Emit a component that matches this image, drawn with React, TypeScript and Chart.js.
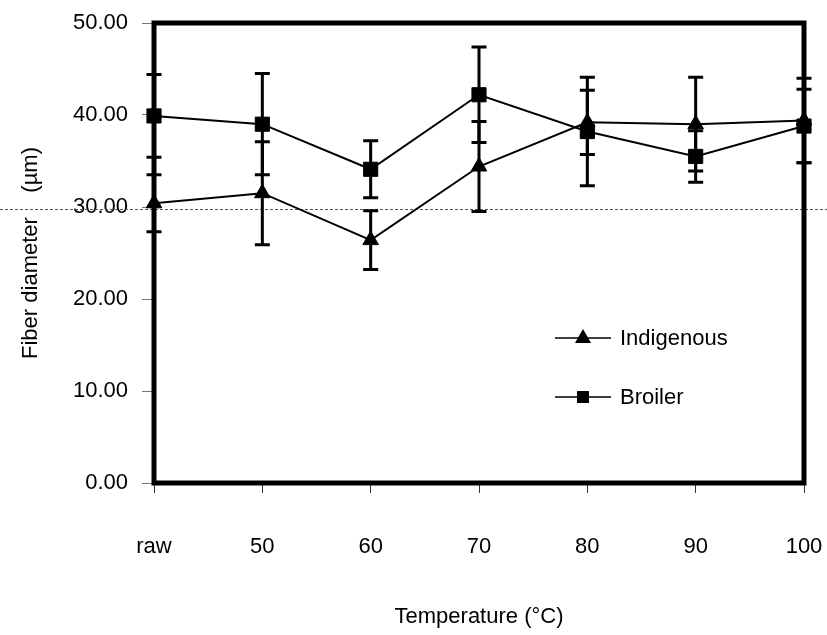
import React, { useEffect, useRef } from "react";
import { Chart, registerables } from "chart.js";

Chart.register(...registerables);

const categories = ["raw", "50", "60", "70", "80", "90", "100"];
const indigenous = [30.4, 31.5, 26.4, 34.4, 39.2, 39.0, 39.4];
const indigenousErr = [3.1, 5.6, 3.2, 4.9, 3.5, 5.1, 4.6];
const broiler = [39.9, 39.0, 34.1, 42.2, 38.2, 35.5, 38.8];
const broilerErr = [4.5, 5.5, 3.1, 5.2, 5.9, 2.8, 4.0];
const yMin = 0;
const yMax = 50;
const yStep = 10;
const scanLineValue = 29.8;
const seriesNames = ["Indigenous", "Broiler"];
const FONT = "'Liberation Sans', Arial, sans-serif";

const errorBarPlugin = {
  id: "errorBars",
  beforeDatasetsDraw(chart: any) {
    const { ctx, scales } = chart;
    const y = scales.y;
    ctx.save();
    // faint dotted scan line
    const sy = Math.round(y.getPixelForValue(scanLineValue)) + 0.5;
    ctx.strokeStyle = "#555";
    ctx.lineWidth = 1;
    ctx.setLineDash([3, 2]);
    ctx.beginPath();
    ctx.moveTo(0, sy);
    ctx.lineTo(chart.width, sy);
    ctx.stroke();
    ctx.setLineDash([]);

    chart.data.datasets.forEach((ds: any, i: number) => {
      const meta = chart.getDatasetMeta(i);
      const errs: number[] = ds.errors || [];
      meta.data.forEach((pt: any, j: number) => {
        const v = ds.data[j];
        const e = errs[j];
        if (v == null || e == null) return;
        const top = y.getPixelForValue(v + e);
        const bot = y.getPixelForValue(v - e);
        ctx.strokeStyle = "#000";
        ctx.lineWidth = 3;
        ctx.beginPath();
        ctx.moveTo(pt.x, top);
        ctx.lineTo(pt.x, bot);
        ctx.moveTo(pt.x - 7.5, top);
        ctx.lineTo(pt.x + 7.5, top);
        ctx.moveTo(pt.x - 7.5, bot);
        ctx.lineTo(pt.x + 7.5, bot);
        ctx.stroke();
      });
    });
    ctx.restore();
  },
};

const framePlugin = {
  id: "frame",
  afterDraw(chart: any) {
    const { ctx, chartArea } = chart;
    const { left, top, right, bottom } = chartArea;
    ctx.save();
    ctx.strokeStyle = "#000";
    ctx.lineWidth = 5;
    ctx.strokeRect(left, top, right - left, bottom - top);

    // legend inside plot area
    const lx = left + 401;
    const items = [
      { y: top + 315, style: "triangle" },
      { y: top + 374, style: "rect" },
    ];
    items.forEach((it, i) => {
      ctx.strokeStyle = "#000";
      ctx.fillStyle = "#000";
      ctx.lineWidth = 1.5;
      ctx.beginPath();
      ctx.moveTo(lx, it.y);
      ctx.lineTo(lx + 56, it.y);
      ctx.stroke();
      const cx = lx + 28;
      ctx.beginPath();
      if (it.style === "triangle") {
        ctx.moveTo(cx, it.y - 9);
        ctx.lineTo(cx + 8, it.y + 5);
        ctx.lineTo(cx - 8, it.y + 5);
        ctx.closePath();
      } else {
        ctx.rect(cx - 6, it.y - 6, 12, 12);
      }
      ctx.fill();
      ctx.font = `22px ${FONT}`;
      ctx.textAlign = "left";
      ctx.textBaseline = "middle";
      ctx.fillText(seriesNames[i], lx + 65, it.y + 1);
    });
    ctx.restore();
  },
};

export default function App() {
  const ref = useRef<HTMLCanvasElement | null>(null);

  useEffect(() => {
    document.body.style.margin = "0";
    const canvas = ref.current;
    if (!canvas) return;
    const chart = new Chart(canvas, {
      type: "line",
      data: {
        labels: categories,
        datasets: [
          {
            label: seriesNames[0],
            data: indigenous,
            errors: indigenousErr,
            borderColor: "#000",
            backgroundColor: "#000",
            borderWidth: 2,
            pointStyle: "triangle",
            pointRadius: 9,
            pointBorderWidth: 1,
            tension: 0,
          } as any,
          {
            label: seriesNames[1],
            data: broiler,
            errors: broilerErr,
            borderColor: "#000",
            backgroundColor: "#000",
            borderWidth: 2,
            pointStyle: "rect",
            pointRadius: 10,
            pointBorderWidth: 1,
            tension: 0,
          } as any,
        ],
      },
      options: {
        responsive: false,
        animation: false,
        layout: { padding: { left: 0, top: 23, right: 23, bottom: 0 } },
        plugins: {
          legend: { display: false },
          tooltip: { enabled: false },
        },
        scales: {
          x: {
            type: "category",
            offset: false,
            afterFit: (s: any) => {
              s.height = 152;
              s.paddingLeft = 0;
              s.paddingRight = 0;
            },
            grid: {
              display: true,
              drawOnChartArea: false,
              drawTicks: true,
              tickLength: 10,
              color: "#333",
              lineWidth: 1,
            },
            border: { display: false },
            ticks: {
              color: "#000",
              font: { family: FONT, size: 22 },
              padding: 41,
              maxRotation: 0,
            },
            title: {
              display: true,
              text: "Temperature (°C)",
              color: "#000",
              font: { family: FONT, size: 22 },
              padding: { top: 0, bottom: 5 },
            },
          },
          y: {
            min: yMin,
            max: yMax,
            afterFit: (s: any) => {
              s.width = 154;
              s.paddingTop = 0;
              s.paddingBottom = 0;
            },
            grid: {
              display: true,
              drawOnChartArea: false,
              drawTicks: true,
              tickLength: 12,
              color: "#777",
              lineWidth: 1,
            },
            border: { display: false },
            ticks: {
              stepSize: yStep,
              color: "#000",
              font: { family: FONT, size: 22 },
              padding: 14,
              callback: (v: any) => Number(v).toFixed(2),
            },
            title: {
              display: true,
              text: "Fiber diameter    (µm)",
              color: "#000",
              font: { family: FONT, size: 22 },
              padding: { top: 18, bottom: 0 },
            },
          },
        },
      } as any,
      plugins: [errorBarPlugin, framePlugin],
    });
    return () => chart.destroy();
  }, []);

  return (
    <canvas
      ref={ref}
      width={827}
      height={635}
      style={{ display: "block", width: 827, height: 635 }}
    />
  );
}
